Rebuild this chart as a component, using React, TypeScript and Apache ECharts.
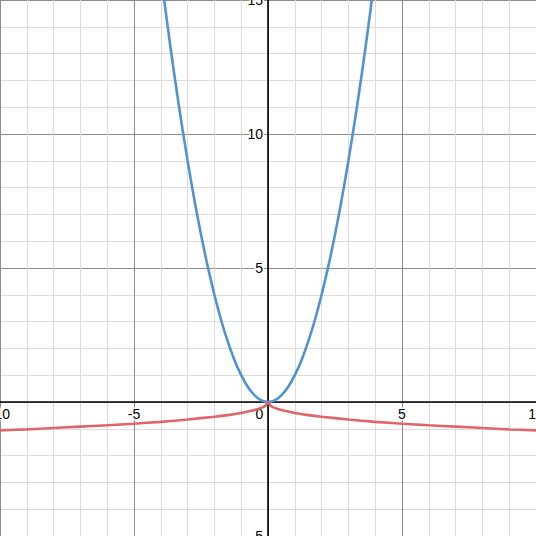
import React, { useEffect, useRef } from "react";
import * as echarts from "echarts";

// Blue curve (parabola)
const blueX = [-4, -3.75, -3.5, -3.25, -3, -2.75, -2.5, -2.25, -2, -1.75, -1.5, -1.25, -1, -0.75, -0.5, -0.25, 0,
  0.25, 0.5, 0.75, 1, 1.25, 1.5, 1.75, 2, 2.25, 2.5, 2.75, 3, 3.25, 3.5, 3.75, 4];
const blueY = [16, 14.06, 12.25, 10.56, 9, 7.56, 6.25, 5.06, 4, 3.06, 2.25, 1.56, 1, 0.56, 0.25, 0.06, 0,
  0.06, 0.25, 0.56, 1, 1.56, 2.25, 3.06, 4, 5.06, 6.25, 7.56, 9, 10.56, 12.25, 14.06, 16];

// Red curve
const redX = [-10, -9, -8, -7, -6, -5, -4, -3, -2, -1.5, -1, -0.5, -0.25, -0.1, 0,
  0.1, 0.25, 0.5, 1, 1.5, 2, 3, 4, 5, 6, 7, 8, 9, 10];
const redY = [-1.06, -1.02, -0.97, -0.92, -0.87, -0.81, -0.74, -0.65, -0.55, -0.49, -0.41, -0.30, -0.22, -0.14, 0,
  -0.14, -0.22, -0.30, -0.41, -0.49, -0.55, -0.65, -0.74, -0.81, -0.87, -0.92, -0.97, -1.02, -1.06];

const xTicks = { min: -10, max: 10, interval: 5 };
const yTicks = { min: -5, max: 15, interval: 5 };

const FONT = "'Liberation Sans', Arial, sans-serif";

export default function App() {
  const ref = useRef<HTMLDivElement>(null);
  useEffect(() => {
    if (!ref.current) return;
    const chart = echarts.init(ref.current, undefined, { renderer: "svg" });
    const labelStyle = {
      color: "#000",
      fontFamily: FONT,
      fontSize: 14,
      textBorderColor: "#fff",
      textBorderWidth: 3,
    };
    const axisCommon = {
      type: "value" as const,
      axisLine: { show: true, onZero: false, lineStyle: { color: "#000", width: 1.6 } },
      axisTick: { show: false },
      splitLine: { show: true, lineStyle: { color: "#8c8c8c", width: 1 } },
      minorTick: { show: false, splitNumber: 5 },
      minorSplitLine: { show: true, lineStyle: { color: "#dcdcdc", width: 1 } },
    };
    const buildOption = (xOffset: number, yOffset: number) => ({
      animation: false,
      backgroundColor: "#fff",
      grid: { left: 0, right: 0, top: 0, bottom: 0, containLabel: false, outerBoundsMode: "none" },
      xAxis: {
        ...axisCommon,
        position: "bottom",
        offset: xOffset,
        min: xTicks.min,
        max: xTicks.max,
        interval: xTicks.interval,
        axisLabel: {
          ...labelStyle,
          margin: 5,
          showMinLabel: true,
          showMaxLabel: true,
          formatter: (v: number) => (v === 0 ? "{z|0}" : String(v)),
          rich: { z: { ...labelStyle, padding: [0, 17, 0, 0] } },
        },
      },
      yAxis: {
        ...axisCommon,
        position: "left",
        offset: yOffset,
        min: yTicks.min,
        max: yTicks.max,
        interval: yTicks.interval,
        axisLabel: {
          ...labelStyle,
          margin: 5,
          showMinLabel: true,
          showMaxLabel: true,
          formatter: (v: number) => (v === 0 ? "" : String(v)),
        },
      },
      series: [
        {
          type: "line",
          data: blueX.map((x, i) => [x, blueY[i]]),
          showSymbol: false,
          smooth: 0.3,
          clip: true,
          lineStyle: { color: "#4f93d1", width: 2.6 },
          z: 3,
        },
        {
          type: "line",
          data: redX.map((x, i) => [x, redY[i]]),
          showSymbol: false,
          smooth: 0.3,
          clip: true,
          lineStyle: { color: "#e0656a", width: 2.6 },
          z: 3,
        },
      ],
    });
    chart.setOption(buildOption(0, 0));
    // Move the axes (line + labels) onto the origin, using the library's own scales
    const origin = chart.convertToPixel({ gridIndex: 0 }, [0, 0]) as number[];
    const minCorner = chart.convertToPixel({ gridIndex: 0 }, [xTicks.min, yTicks.min]) as number[];
    const xOffset = -(minCorner[1] - origin[1]);
    const yOffset = -(origin[0] - minCorner[0]);
    chart.setOption(buildOption(xOffset, yOffset));
    return () => chart.dispose();
  }, []);
  return (
    <div
      ref={ref}
      style={{ position: "fixed", left: 0, top: 0, width: 536, height: 536, background: "#fff" }}
    />
  );
}
